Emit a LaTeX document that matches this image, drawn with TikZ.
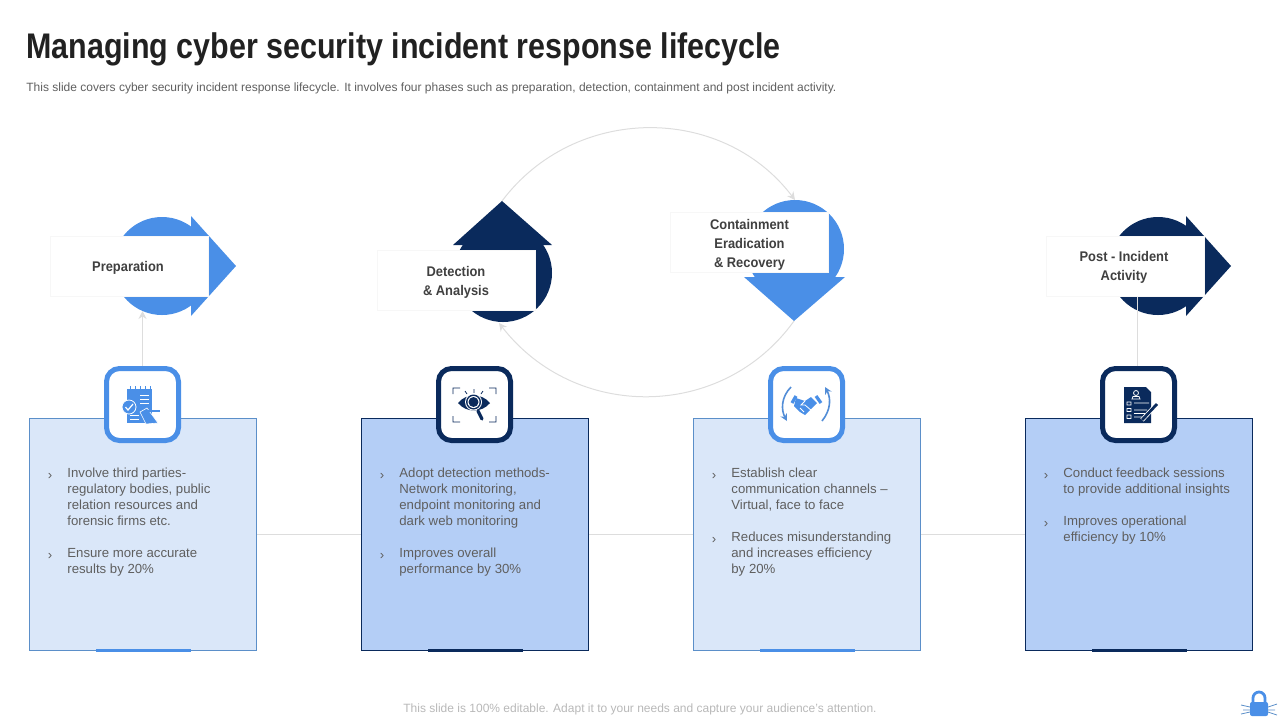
\documentclass[tikz,border=0pt]{standalone}
\usepackage{fontspec}
\setmainfont{Liberation Sans}
\newfontfamily\titlefont[FakeStretch=0.855]{Liberation Sans Bold}
\newfontfamily\labelfont[FakeStretch=0.92]{Liberation Sans Bold}
\usetikzlibrary{arrows.meta}
\definecolor{bluemain}{HTML}{4A8FE7}
\definecolor{navymain}{HTML}{0A2A5C}
\definecolor{cardlight}{HTML}{DAE7F9}
\definecolor{cardmid}{HTML}{B4CEF6}
\definecolor{cardedge}{HTML}{5B8FC9}
\definecolor{linegrey}{HTML}{DDDDDD}
\definecolor{textgrey}{HTML}{5F5F5F}
\tikzset{
  disc/.style={circle,minimum size=49pt,inner sep=0pt},
  labelbox/.style={draw=black!3,line width=0.5pt,fill=white,minimum width=79pt,minimum height=30pt,inner sep=0pt},
  labeltext/.style={align=center,inner sep=0pt,text=black!75,font=\labelfont\fontsize{7}{9.5}\selectfont},
  iconframe/.style={draw,line width=2.5pt,rounded corners=6.5pt,fill=white,minimum size=36pt,inner sep=0pt},
  cardbox/.style={draw,line width=0.5pt,minimum width=113.5pt,minimum height=116pt,inner sep=0pt},
  cardtext/.style={anchor=west,align=left,yshift=-1pt,inner sep=0pt,text=textgrey,font=\fontsize{6.6}{8}\selectfont,
    execute at begin node=\strut,execute at end node=\strut},
  carddot/.style={inner sep=0pt,xshift=0.5pt,yshift=-0.5pt,text=textgrey,font=\fontsize{6.6}{8}\selectfont},
  greyline/.style={draw=linegrey,line width=0.5pt},
  greyarrow/.style={greyline,-{Stealth[length=4pt,width=4pt]}}
}
\begin{document}
\begin{tikzpicture}[x=0.5pt,y=-0.5pt]
\useasboundingbox (0,0) rectangle (1280,720);

% heading
\node (title) at (26,58) [anchor=base west,inner sep=0pt,text=black!87,font=\titlefont\fontsize{17.8}{20}\selectfont] {Managing cyber security incident response lifecycle};
\node (subtitle) at (26,88) [anchor=west,inner sep=0pt,text=textgrey,font=\fontsize{6}{8}\selectfont] {This slide covers cyber security incident response lifecycle. It involves four phases such as preparation, detection, containment and post incident activity.};
\node (footer) at (640,709) [inner sep=0pt,text=black!28,font=\fontsize{6}{8}\selectfont] {This slide is 100\% editable. Adapt it to your needs and capture your audience's attention.};

% cards
\node (prepCard) at (143,534.5) [cardbox,fill=cardlight,draw=cardedge] {};
\node (detCard) at (475,534.5) [cardbox,fill=cardmid,draw=navymain] {};
\node (conCard) at (807,534.5) [cardbox,fill=cardlight,draw=cardedge] {};
\node (postCard) at (1139,534.5) [cardbox,fill=cardmid,draw=navymain] {};
\draw[greyline] (prepCard) -- (detCard);
\draw[greyline] (detCard) -- (conCard);
\draw[greyline] (conCard) -- (postCard);
\fill[bluemain] (96,649) rectangle (191,652);
\fill[navymain] (428,649) rectangle (523,652);
\fill[bluemain] (760,649) rectangle (855,652);
\fill[navymain] (1092,649) rectangle (1187,652);

% frames
\node (prepFrame) at (142.5,404.5) [iconframe,draw=bluemain] {};
\node (detFrame) at (474.5,404.5) [iconframe,draw=navymain] {};
\node (conFrame) at (806.5,404.5) [iconframe,draw=bluemain] {};
\node (postFrame) at (1138.5,404.5) [iconframe,draw=navymain] {};

% phase shapes
\node (prepDisc) at (162,266) [disc,fill=bluemain] {};
\node (detDisc) at (503,273) [disc,fill=navymain] {};
\node (conDisc) at (795,249) [disc,fill=bluemain] {};
\node (postDisc) at (1158,266) [disc,fill=navymain] {};
\coordinate (detTip) at (502,201);
\coordinate (conTip) at (794,321);
\coordinate (conIn) at (795,200);
\coordinate (detIn) at (499,323);
\coordinate (prepIn) at (142.5,311);
\fill[bluemain] (191,216) -- (236,266) -- (191,316) -- cycle;
\fill[navymain] (453,245) -- (detTip) -- (552,245) -- cycle;
\fill[bluemain] (744,277) -- (conTip) -- (845,277) -- cycle;
\fill[navymain] (1186,216) -- (1231,266) -- (1186,316) -- cycle;

% connectors
\draw[greyarrow] (prepFrame.north) -- (prepIn);
\draw[greyline] ([xshift=-0.5pt]postFrame.north) -- +(0,-70);
\draw[greyarrow] (detTip) .. controls (575,104) and (722,104) .. (conIn);
\draw[greyarrow] (conTip) .. controls (722,421) and (575,421) .. (detIn);

% labels
\node (prepBox) at (129,266) [labelbox] {};
\node (detBox) at (456.5,280) [labelbox] {};
\node (conBox) at (749,242) [labelbox] {};
\node (postBox) at (1125,266) [labelbox] {};
\node (prepLabel) at (128,268) [labeltext] {Preparation};
\node (detLabel) at (456,282) [labeltext] {Detection\\\& Analysis};
\node (conLabel) at (749.5,244.5) [labeltext] {Containment\\Eradication\\\& Recovery};
\node (postLabel) at (1124,267.5) [labeltext] {Post - Incident\\Activity};

% card texts
\node (prepDotA) at (49,475) [carddot] {›};
\node (prepTextA) at (67,497) [cardtext] {Involve third parties-\\regulatory bodies, public\\relation resources and\\forensic firms etc.};
\node (prepDotB) at (49,555) [carddot] {›};
\node (prepTextB) at (67,561) [cardtext] {Ensure more accurate\\results by 20\%};
\node (detDotA) at (381,475) [carddot] {›};
\node (detTextA) at (399,497) [cardtext] {Adopt detection methods-\\Network monitoring,\\endpoint monitoring and\\dark web monitoring};
\node (detDotB) at (381,555) [carddot] {›};
\node (detTextB) at (399,561) [cardtext] {Improves overall\\performance by 30\%};
\node (conDotA) at (713,475) [carddot] {›};
\node (conTextA) at (731,489) [cardtext] {Establish clear\\communication channels –\\Virtual, face to face};
\node (conDotB) at (713,539) [carddot] {›};
\node (conTextB) at (731,553) [cardtext] {Reduces misunderstanding\\and increases efficiency\\by 20\%};
\node (postDotA) at (1045,475) [carddot] {›};
\node (postTextA) at (1063,481) [cardtext] {Conduct feedback sessions\\to provide additional insights};
\node (postDotB) at (1045,523) [carddot] {›};
\node (postTextB) at (1063,529) [cardtext] {Improves operational\\efficiency by 10\%};

% notepad icon
\fill[bluemain] (127,389) rectangle (152,423);
\foreach \tx in {130,135,140,145,150} \draw[bluemain,line width=0.5pt] (\tx,386) -- (\tx,390);
\draw[white,line width=0.4pt] (140,395) -- (149,395) (140,399) -- (149,399) (140,403) -- (149,403) (130,415) -- (139,415) (130,419) -- (139,419);
\fill[bluemain,draw=white,line width=0.4pt] (129,407) circle (7);
\draw[white,line width=0.6pt] (125.5,407) -- (128,410) -- (133,404);
\fill[bluemain,draw=white,line width=0.3pt] (140,412) -- (147,408) -- (158,423) -- (146,424) -- cycle;
\draw[bluemain,line width=0.7pt] (146,411) -- (160,411);

% eye icon
\draw[navymain,line width=0.4pt] (453,394) -- (453,388) -- (460,388) (489,388) -- (496,388) -- (496,394)
  (453,416) -- (453,422) -- (460,422) (489,422) -- (496,422) -- (496,416)
  (474,393) -- (474,389) (467,394) -- (465,391) (481,394) -- (483,391);
\fill[navymain] (458,403) .. controls (466,393) and (482,393) .. (490,403) .. controls (482,413) and (466,413) .. (458,403) -- cycle;
\fill[white] (473.5,402) circle (8.5);
\fill[navymain] (473.5,402) circle (7.5);
\fill[white] (473.5,402) circle (6);
\fill[navymain] (473.5,402) circle (5);
\draw[navymain,line width=1.6pt,line cap=round] (478,411) -- (482,419);

% handshake icon
\draw[bluemain!85!gray,line width=0.8pt,-{Stealth[length=3.5pt,width=3.5pt]}] (791,387) .. controls (781,397) and (781,410) .. (787,421);
\draw[bluemain!85!gray,line width=0.8pt,-{Stealth[length=3.5pt,width=3.5pt]}] (822,421) .. controls (831,410) and (831,398) .. (825,387);
\fill[bluemain] (796,398) -- (805,401) -- (811,397) -- (817,403) -- (810,410) -- (805,415) -- (800,412) -- (794,406) -- cycle;
\draw[bluemain,line width=1.6pt] (792,403) -- (796,396) (816,396) -- (821,403);
\draw[white,line width=0.4pt] (805,401) -- (801,405) -- (805,405) -- (812,411) (800,408) -- (804,412);

% document icon
\fill[navymain] (1124,387) -- (1146,387) -- (1151,392) -- (1151,423) -- (1124,423) -- cycle;
\draw[white,line width=0.4pt] (1136,393) circle (2.5) (1132,399) -- (1133,396.5) -- (1139,396.5) -- (1140,399) -- cycle
  (1127,402) rectangle (1131,405) (1127,408.5) rectangle (1131,411.5) (1127,415) rectangle (1131,418.5)
  (1134,403) -- (1149,403) (1134,410) -- (1147,410) (1134,413.5) -- (1145,413.5) (1134,417) -- (1142,417);
\draw[white,line width=2.2pt] (1142,420) -- (1157,404);
\draw[navymain,line width=1.4pt] (1142,420) -- (1157,404);

% lock icon
\draw[bluemain,line width=1.4pt] (1253,703) -- (1253,698) arc[start angle=180,end angle=360,radius=6] -- (1265,703);
\fill[bluemain,rounded corners=1pt] (1250,702) rectangle (1268,716);
\draw[cardedge,line width=0.4pt] (1241,705) -- (1250,707) (1241,714) -- (1250,712) (1243,710) -- (1250,710)
  (1268,707) -- (1277,704) (1268,712) -- (1277,715) (1268,710) -- (1275,710);
\end{tikzpicture}
\end{document}
